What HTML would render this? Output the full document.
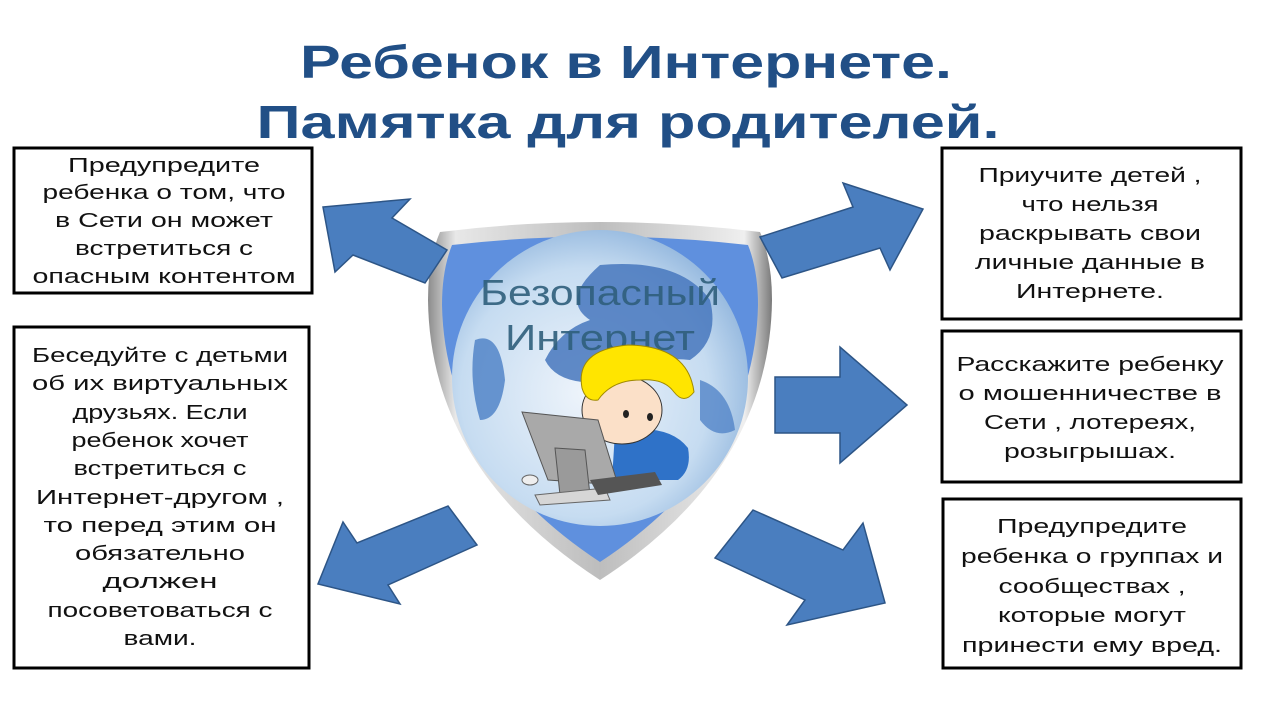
<!DOCTYPE html>
<html><head><meta charset="utf-8"><style>
html,body{margin:0;padding:0;background:#fff;}
svg{display:block;}
.t{font-family:"Liberation Sans",sans-serif;font-size:20px;fill:#111;text-anchor:middle;}
</style></head><body>
<svg width="1280" height="720" viewBox="0 0 1280 720" xmlns="http://www.w3.org/2000/svg">
<defs>
<linearGradient id="sil" x1="0" y1="0" x2="1" y2="0">
<stop offset="0" stop-color="#8c8c8c"/><stop offset="0.08" stop-color="#e8e8e8"/><stop offset="0.5" stop-color="#bdbdbd"/><stop offset="0.92" stop-color="#efefef"/><stop offset="1" stop-color="#7a7a7a"/>
</linearGradient>
<radialGradient id="glb" cx="0.45" cy="0.55" r="0.6">
<stop offset="0" stop-color="#eef4fb"/><stop offset="0.7" stop-color="#c6dcf1"/><stop offset="1" stop-color="#8fb4dc"/>
</radialGradient>
</defs>
<text x="626" y="78" font-family="Liberation Sans,sans-serif" font-weight="bold" font-size="46" fill="#214f86" text-anchor="middle" textLength="652" lengthAdjust="spacingAndGlyphs">Ребенок в Интернете.</text>
<text x="628" y="138" font-family="Liberation Sans,sans-serif" font-weight="bold" font-size="46" fill="#214f86" text-anchor="middle" textLength="743" lengthAdjust="spacingAndGlyphs">Памятка для родителей.</text>

<path d="M440,232 Q600,212 760,232 Q772,260 772,300 Q770,470 600,580 Q430,470 428,300 Q428,260 440,232 Z" fill="url(#sil)"/>
<path d="M452,245 Q600,228 748,245 Q758,270 758,305 Q755,460 600,562 Q445,460 442,305 Q442,270 452,245 Z" fill="#5f90de"/>
<circle cx="600" cy="378" r="148" fill="url(#glb)"/>
<path d="M600,265 Q680,258 710,300 Q720,340 690,360 Q650,355 620,380 Q560,390 545,360 Q560,330 590,320 Q560,300 600,265Z" fill="#4677bd" opacity="0.85"/>
<path d="M475,340 Q500,330 505,380 Q500,420 480,420 Q468,380 475,340Z" fill="#5285c8" opacity="0.85"/>
<path d="M700,380 Q730,390 735,430 Q715,440 700,420Z" fill="#5285c8" opacity="0.8"/>
<text x="600" y="305" font-family="Liberation Sans,sans-serif" font-size="36" fill="#2f5f7c" opacity="0.9" text-anchor="middle" textLength="240" lengthAdjust="spacingAndGlyphs">Безопасный</text>
<text x="600" y="350" font-family="Liberation Sans,sans-serif" font-size="36" fill="#2f5f7c" opacity="0.9" text-anchor="middle" textLength="190" lengthAdjust="spacingAndGlyphs">Интернет</text>
<path d="M615,432 Q668,422 688,448 Q692,470 678,480 L612,480 Z" fill="#2f72c8"/>
<ellipse cx="622" cy="410" rx="40" ry="34" fill="#fbe0c8" stroke="#333" stroke-width="1"/>
<path d="M582,388 Q575,350 628,345 Q688,346 694,392 Q684,405 674,392 Q664,378 640,380 Q612,380 598,400 Q586,402 582,388Z" fill="#ffe500" stroke="#a08a00" stroke-width="1"/>
<ellipse cx="650" cy="417" rx="3" ry="4" fill="#222"/><ellipse cx="626" cy="414" rx="3" ry="4" fill="#222"/>
<polygon points="522,412 598,420 618,485 548,480" fill="#a9a9a9" stroke="#555" stroke-width="1"/>
<polygon points="555,448 585,450 590,495 560,495" fill="#9a9a9a" stroke="#555" stroke-width="1"/>
<polygon points="535,495 605,488 610,500 540,505" fill="#d6d6d6" stroke="#666" stroke-width="1"/>
<polygon points="590,480 655,472 662,485 598,495" fill="#555"/>
<ellipse cx="530" cy="480" rx="8" ry="5" fill="#eee" stroke="#666"/>

<g fill="#4a7ebf" stroke="#2d5586" stroke-width="1.5">
<polygon points="323,207 410,199 392,218 447,250 425,283 353,255 335,272"/>
<polygon points="760,237 853,207 843,183 923,209 890,270 880,248 782,278"/>
<polygon points="775,377 840,377 840,347 907,405 840,463 840,433 775,433"/>
<polygon points="448,506 477,545 388,585 400,604 318,584 343,522 357,543"/>
<polygon points="753,510 843,550 863,523 885,603 787,625 805,600 715,558"/>
</g>

<g fill="#fff" stroke="#000" stroke-width="3">
<rect x="14" y="148" width="298" height="145"/>
<rect x="14" y="327" width="295" height="341"/>
<rect x="942" y="148" width="299" height="171"/>
<rect x="942" y="331" width="299" height="151"/>
<rect x="943" y="499" width="298" height="169"/>
</g>
<g class="t">
<text class="t" x="164" y="172" textLength="192" lengthAdjust="spacingAndGlyphs">Предупредите</text>
<text class="t" x="164" y="199" textLength="243" lengthAdjust="spacingAndGlyphs">ребенка о том, что</text>
<text class="t" x="164" y="227" textLength="218" lengthAdjust="spacingAndGlyphs">в Сети он может</text>
<text class="t" x="164" y="255" textLength="178" lengthAdjust="spacingAndGlyphs">встретиться с</text>
<text class="t" x="164" y="283" textLength="263" lengthAdjust="spacingAndGlyphs">опасным контентом</text>

<text class="t" x="160" y="362" textLength="256" lengthAdjust="spacingAndGlyphs">Беседуйте с детьми</text>
<text class="t" x="160" y="390" textLength="256" lengthAdjust="spacingAndGlyphs">об их виртуальных</text>
<text class="t" x="160" y="419" textLength="175" lengthAdjust="spacingAndGlyphs">друзьях. Если</text>
<text class="t" x="160" y="447" textLength="177" lengthAdjust="spacingAndGlyphs">ребенок хочет</text>
<text class="t" x="160" y="475" textLength="173" lengthAdjust="spacingAndGlyphs">встретиться с</text>
<text class="t" x="160" y="504" textLength="248" lengthAdjust="spacingAndGlyphs">Интернет-другом ,</text>
<text class="t" x="160" y="532" textLength="233" lengthAdjust="spacingAndGlyphs">то перед этим он</text>
<text class="t" x="160" y="560" textLength="170" lengthAdjust="spacingAndGlyphs">обязательно</text>
<text class="t" x="160" y="588" textLength="115" lengthAdjust="spacingAndGlyphs">должен</text>
<text class="t" x="160" y="617" textLength="225" lengthAdjust="spacingAndGlyphs">посоветоваться с</text>
<text class="t" x="160" y="645" textLength="73" lengthAdjust="spacingAndGlyphs">вами.</text>

<text class="t" x="1090" y="182" textLength="223" lengthAdjust="spacingAndGlyphs">Приучите детей ,</text>
<text class="t" x="1090" y="211" textLength="137" lengthAdjust="spacingAndGlyphs">что нельзя</text>
<text class="t" x="1090" y="240" textLength="222" lengthAdjust="spacingAndGlyphs">раскрывать свои</text>
<text class="t" x="1090" y="269" textLength="230" lengthAdjust="spacingAndGlyphs">личные данные в</text>
<text class="t" x="1090" y="298" textLength="148" lengthAdjust="spacingAndGlyphs">Интернете.</text>

<text class="t" x="1090" y="371" textLength="267" lengthAdjust="spacingAndGlyphs">Расскажите ребенку</text>
<text class="t" x="1090" y="400" textLength="263" lengthAdjust="spacingAndGlyphs">о мошенничестве в</text>
<text class="t" x="1090" y="429" textLength="212" lengthAdjust="spacingAndGlyphs">Сети , лотереях,</text>
<text class="t" x="1090" y="458" textLength="172" lengthAdjust="spacingAndGlyphs">розыгрышах.</text>

<text class="t" x="1092" y="533" textLength="190" lengthAdjust="spacingAndGlyphs">Предупредите</text>
<text class="t" x="1092" y="563" textLength="262" lengthAdjust="spacingAndGlyphs">ребенка о группах и</text>
<text class="t" x="1092" y="593" textLength="187" lengthAdjust="spacingAndGlyphs">сообществах ,</text>
<text class="t" x="1092" y="622" textLength="188" lengthAdjust="spacingAndGlyphs">которые могут</text>
<text class="t" x="1092" y="652" textLength="260" lengthAdjust="spacingAndGlyphs">принести ему вред.</text>
</g>
</svg>
</body></html>
